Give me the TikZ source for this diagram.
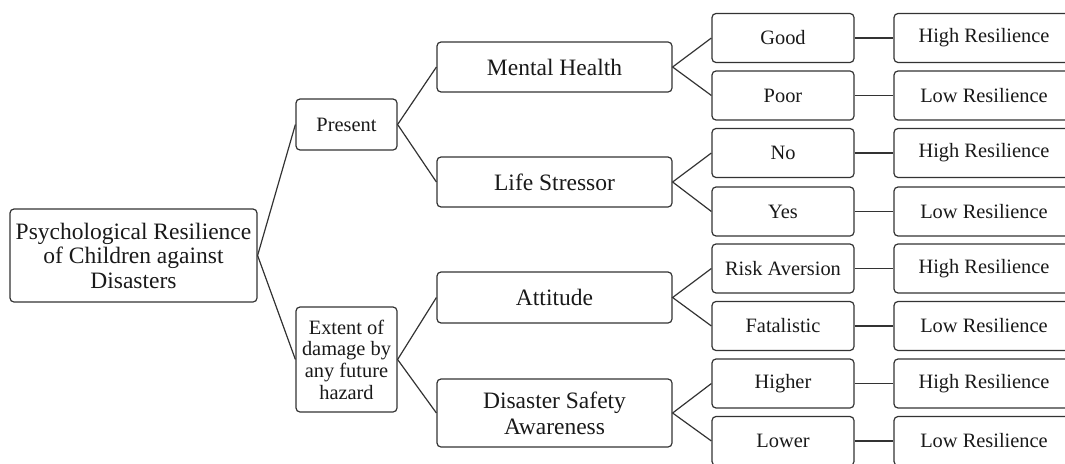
\documentclass[tikz,border=0pt]{standalone}
\usepackage{fontspec}
\setmainfont{Liberation Serif}
\begin{document}
\begin{tikzpicture}[x=1pt,y=-1pt,
  box/.style={draw=black!80, line width=1.2pt, rounded corners=4pt, inner sep=0pt, align=center, text=black!90},
  leaf/.style={box, minimum width=142pt, minimum height=49pt, font=\fontsize{20.4}{22}\selectfont},
  result/.style={box, minimum width=180pt, minimum height=49pt, font=\fontsize{20.4}{22}\selectfont},
  factor/.style={box, minimum width=235pt, font=\fontsize{23.5}{26}\selectfont},
  branch/.style={box, minimum width=101pt, font=\fontsize{20.4}{21.7}\selectfont},
  link/.style={draw=black!80, line width=1.2pt}]
\useasboundingbox (0,0) rectangle (1065,463);
\clip (0,0) rectangle (1065,463);

% root and first split
\node[box, minimum width=247pt, minimum height=93pt, font=\fontsize{23.5}{24.5}\selectfont] (root) at (133.5,255.5)
  {Psychological Resilience\\of Children against\\Disasters};
\node[branch, minimum height=51pt] (present) at (346.5,124.5) {Present};
\node[branch, minimum height=105pt] (extent) at (346.5,359.5) {Extent of\\damage by\\any future\\hazard};

% factors
\node[factor, minimum height=50pt] (mh)  at (554.5,67)  {Mental Health};
\node[factor, minimum height=50pt] (ls)  at (554.5,182) {Life Stressor};
\node[factor, minimum height=51pt] (att) at (554.5,297.5) {Attitude};
\node[factor, minimum height=68pt] (dsa) at (554.5,413) {Disaster Safety\\Awareness};

% states
\node[leaf] (good)   at (783,38)    {Good};
\node[leaf] (poor)   at (783,95.5)  {Poor};
\node[leaf] (no)     at (783,153)   {No};
\node[leaf] (yes)    at (783,211.5) {Yes};
\node[leaf] (risk)   at (783,268.5) {Risk Aversion};
\node[leaf] (fatal)  at (783,326)   {Fatalistic};
\node[leaf] (higher) at (783,383.5) {Higher};
\node[leaf] (lower)  at (783,441)   {Lower};

% outcomes
\node[result] (r1) at (984,38)    {High Resilience};
\node[result] (r2) at (984,95.5)  {Low Resilience};
\node[result] (r3) at (984,153)   {High Resilience};
\node[result] (r4) at (984,211.5) {Low Resilience};
\node[result] (r5) at (984,268.5) {High Resilience};
\node[result] (r6) at (984,326)   {Low Resilience};
\node[result] (r7) at (984,383.5) {High Resilience};
\node[result] (r8) at (984,441)   {Low Resilience};

% connectors
\draw[link] (present.west) -- (root.east) -- (extent.west);
\draw[link] (mh.west) -- (present.east) -- (ls.west);
\draw[link] (att.west) -- (extent.east) -- (dsa.west);
\draw[link] (good.west) -- (mh.east) -- (poor.west);
\draw[link] (no.west) -- (ls.east) -- (yes.west);
\draw[link] (risk.west) -- (att.east) -- (fatal.west);
\draw[link] (higher.west) -- (dsa.east) -- (lower.west);
\foreach \a/\b in {good/r1, poor/r2, no/r3, yes/r4, risk/r5, fatal/r6, higher/r7, lower/r8}
  \draw[link] (\a.east) -- (\b.west);
\end{tikzpicture}
\end{document}
